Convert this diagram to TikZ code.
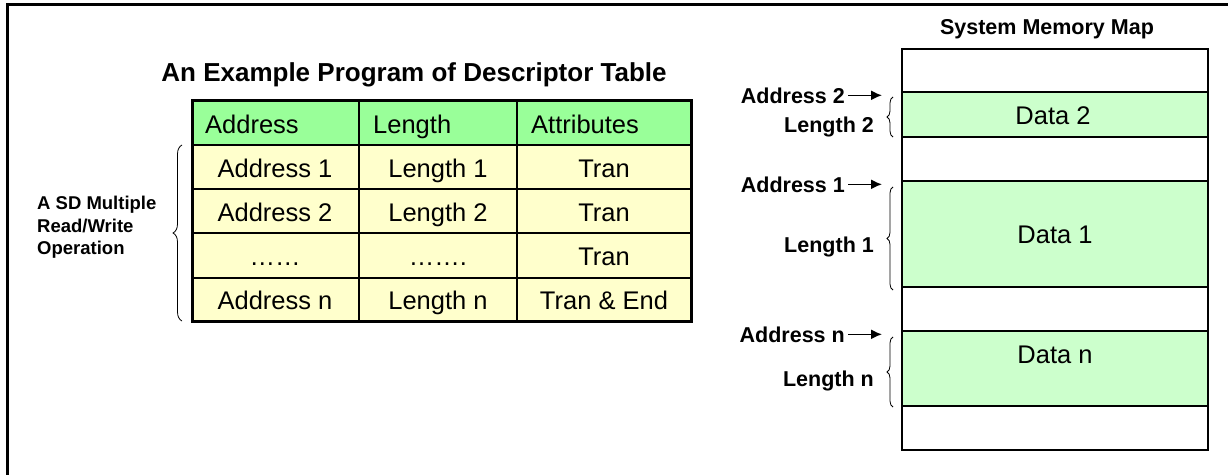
\documentclass[tikz,border=0pt]{standalone}
\usepackage{fontspec}
\setmainfont{Liberation Sans}
\usetikzlibrary{decorations.pathreplacing,arrows.meta}
\definecolor{hdrgreen}{HTML}{99FF99}
\definecolor{rowyellow}{HTML}{FFFFCC}
\definecolor{datagreen}{HTML}{CCFFCC}
\begin{document}
\begin{tikzpicture}[x=1pt,y=-1pt,
    celltext/.style={anchor=base,inner sep=0,font=\fontsize{25.5}{30}\selectfont},
    hdrtext/.style={anchor=base west,inner sep=0,font=\fontsize{25.5}{30}\selectfont},
    maplabel/.style={anchor=base east,inner sep=0,font=\fontsize{21.5}{26}\selectfont\bfseries},
    curly/.style={decorate,decoration={brace,amplitude=#1},line width=0.8pt},
    curly/.default=6pt,
    ptr/.style={-{Latex[length=11pt,width=10pt]},line width=1.5pt}]
\useasboundingbox (0,0) rectangle (1228,474);
\draw[line width=3pt] (7,480) -- (7,4) -- (1235,4);

% descriptor table
\node[anchor=base,inner sep=0,font=\fontsize{26}{30}\selectfont\bfseries] (tabtitle) at (414,81) {An Example Program of Descriptor Table};
\fill[hdrgreen] (192,100) rectangle (691,145);
\fill[rowyellow] (192,145) rectangle (691,321);
\foreach \y in {145,189,233,278} \draw[line width=2pt] (192,\y) -- (691,\y);
\foreach \x in {359,517} \draw[line width=2pt] (\x,100) -- (\x,321);
\draw[line width=3pt] (192,100) rectangle (691,321);
\node[hdrtext] (hadr) at (205,133) {Address};
\node[hdrtext] (hlen) at (373,133) {Length};
\node[hdrtext] (hatt) at (531,133) {Attributes};
\foreach \i/\y/\a/\l/\t in {1/177/Address 1/Length 1/Tran,
                           2/221/Address 2/Length 2/Tran,
                           3/265/……/……./Tran,
                           4/309/Address n/Length n/Tran \& End} {
  \node[celltext] (adr\i) at (275,\y) {\a};
  \node[celltext] (len\i) at (438,\y) {\l};
  \node[celltext] (att\i) at (604,\y) {\t};
}
\draw[curly=9pt] (182,321) -- (182,145);
\node[anchor=north west,align=left,inner sep=0,font=\fontsize{18.5}{22.5}\selectfont\bfseries] (oplabel) at (37,196) {A SD Multiple\\Read/Write\\Operation};

% system memory map
\node[anchor=base,inner sep=0,font=\fontsize{21.5}{26}\selectfont\bfseries] (maptitle) at (1047,34) {System Memory Map};
\fill[datagreen] (902,92) rectangle (1208,137);
\fill[datagreen] (902,181) rectangle (1208,287);
\fill[datagreen] (902,331) rectangle (1208,406);
\foreach \y in {92,137,181,287,331,406} \draw[line width=2pt] (902,\y) -- (1208,\y);
\draw[line width=2.5pt] (902,49) rectangle (1208,450);
\node[celltext] (data2) at (1053,124) {Data 2};
\node[celltext] (data1) at (1055,243) {Data 1};
\node[celltext] (datan) at (1055,363) {Data n};

\node[maplabel] (madr2) at (845,103) {Address 2};
\node[maplabel] (mlen2) at (874,132) {Length 2};
\node[maplabel] (madr1) at (845,192) {Address 1};
\node[maplabel] (mlen1) at (874,252) {Length 1};
\node[maplabel] (madrn) at (845,342) {Address n};
\node[maplabel] (mlenn) at (874,386) {Length n};
\coordinate (tip2) at ([xshift=37pt]madr2.east);
\coordinate (tip1) at ([xshift=37pt]madr1.east);
\coordinate (tipn) at ([xshift=37pt]madrn.east);
\draw[ptr] ([xshift=3pt]madr2.east) -- (tip2);
\draw[ptr] ([xshift=3pt]madr1.east) -- (tip1);
\draw[ptr] ([xshift=3pt]madrn.east) -- (tipn);
\draw[curly] (893,137) -- (893,97);
\draw[curly] (893,290) -- (893,187);
\draw[curly] (893,407) -- (893,337);
\end{tikzpicture}
\end{document}
